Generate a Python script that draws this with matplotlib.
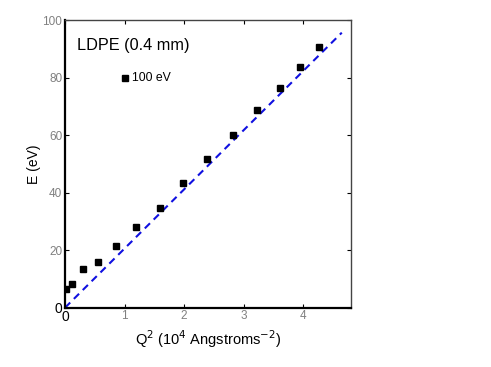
import matplotlib
matplotlib.use("Agg")
import matplotlib.pyplot as plt

# Data
q2 = [0.02, 0.12, 0.30, 0.55, 0.86, 1.20, 1.60, 1.99, 2.39, 2.83, 3.22, 3.61, 3.95, 4.26]
energy = [6.5, 8.1, 13.4, 16.0, 21.6, 27.9, 34.8, 43.3, 51.7, 60.0, 68.7, 76.3, 83.6, 90.7]
fit_x = [0.0, 4.65]
fit_y = [0.0, 95.6]
legend_x = [1.0]
legend_y = [80.0]
xticks = [0, 1, 2, 3, 4]
yticks = [0, 20, 40, 60, 80, 100]

fig = plt.figure(figsize=(4.91, 3.67), dpi=100)
ax = fig.add_axes([0.1324, 0.1616, 0.5819, 0.7839])

ax.plot(fit_x, fit_y, linestyle=(0, (3.5, 2.5)), color="#1010e0", lw=1.5, zorder=2)
ax.plot(q2, energy, linestyle="none", marker="s", color="black", markersize=3.9, zorder=3)
ax.plot(legend_x, legend_y, linestyle="none", marker="s", color="black", markersize=3.9, zorder=3)
ax.text(1.12, 80, "100 eV", fontsize=8.8, family="Liberation Sans", va="center", ha="left")
ax.text(0.2, 91, "LDPE (0.4 mm)", fontsize=11.7, family="Liberation Sans", va="center", ha="left")

ax.set_xlim(0, 4.8)
ax.set_ylim(0, 100)
ax.set_xticks(xticks)
ax.set_yticks(yticks)
ax.set_xticklabels([str(t) for t in xticks], family="Liberation Sans", fontsize=8.5)
ax.set_yticklabels([str(t) for t in yticks], family="Liberation Sans", fontsize=8.5)
for lbl in ax.get_xticklabels() + ax.get_yticklabels():
    lbl.set_color("#808080")
ax.get_xticklabels()[0].set_color("black")
ax.get_yticklabels()[0].set_color("black")
ax.get_xticklabels()[0].set_fontsize(10)
ax.get_yticklabels()[0].set_fontsize(10)

ax.tick_params(direction="in", top=True, right=True, length=3, width=0.8, pad=2)
for side in ["left", "bottom"]:
    ax.spines[side].set_linewidth(1.6)
for side in ["top", "right"]:
    ax.spines[side].set_linewidth(1.0)
    ax.spines[side].set_color("#444444")

ax.set_xlabel("Q$^2$ (10$^4$ Angstroms$^{-2}$)", family="Liberation Sans", fontsize=10.5, labelpad=3)
ax.set_ylabel("E (eV)", family="Liberation Sans", fontsize=10, labelpad=1)

fig.savefig("out.png", dpi=100)
